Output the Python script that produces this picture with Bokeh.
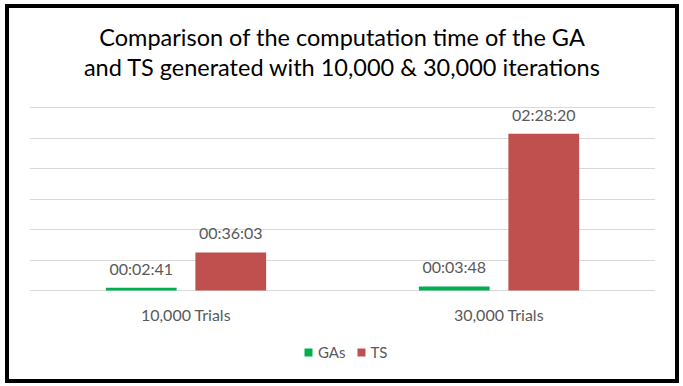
from bokeh.plotting import figure
from bokeh.models import (ColumnDataSource, FactorRange, Range1d, FixedTicker,
                          LabelSet, Label, Legend, LegendItem)
from bokeh.core.properties import value
from bokeh.transform import dodge
from bokeh.embed import file_html
from bokeh.resources import INLINE

# ---- data (seconds) ----
categories = ["10,000 Trials", "30,000 Trials"]
series = ["GAs", "TS"]
ga_seconds = [161, 228]      # 00:02:41, 00:03:48
ts_seconds = [2163, 8900]    # 00:36:03, 02:28:20
grid_step = 1728             # 0:28:48 (0.02 day)
grid_count = 6

title_lines = ["Comparison of the computation time of the GA",
               "and TS generated with 10,000 & 30,000 iterations"]


def hms(s):
    return "%02d:%02d:%02d" % (s // 3600, (s % 3600) // 60, s % 60)


src = ColumnDataSource(dict(
    cat=categories,
    ga=ga_seconds,
    ts=ts_seconds,
    ga_lbl=[hms(v) for v in ga_seconds],
    ts_lbl=[hms(v) for v in ts_seconds],
))

FONT = "Lato"
GRAY = "#595959"

# layout: figure 666x371 placed at page (9, 8); plot frame spans full height,
# zero line 282 px below the top, 30.45 px per grid step
W, H = 666, 371
zero_from_top = 282
px_per_unit = 30.45 / grid_step
y_lo = -(H - zero_from_top) / px_per_unit
y_hi = zero_from_top / px_per_unit

p = figure(width=W, height=H, output_backend="svg", toolbar_location=None,
           x_range=FactorRange(factors=categories, range_padding=0),
           y_range=Range1d(y_lo, y_hi),
           x_axis_location=None, y_axis_location=None,
           min_border=0, min_border_left=20, min_border_right=20)
p.outline_line_color = None
p.styles = {"margin-left": "9px", "margin-top": "8px",
            "outline": "4px solid black", "outline-offset": "0px"}

p.ygrid.ticker = FixedTicker(ticks=[grid_step * i for i in range(grid_count + 1)])
p.ygrid.grid_line_color = "#d9d9d9"
p.xgrid.grid_line_color = None

r_ga = p.vbar(x=dodge("cat", -0.143, range=p.x_range), top="ga", width=0.226,
              source=src, fill_color="#00b050", line_color=None)
r_ts = p.vbar(x=dodge("cat", 0.143, range=p.x_range), top="ts", width=0.226,
              source=src, fill_color="#c0504d", line_color=None)

# value labels
for off, col in ((-0.143, "ga"), (0.143, "ts")):
    p.add_layout(LabelSet(x=dodge("cat", off, range=p.x_range), y=col,
                          text=col + "_lbl", source=src, y_offset=13,
                          text_align="center", text_baseline="alphabetic",
                          text_font=value(FONT), text_font_size="16px",
                          text_color=GRAY))

# category labels under the zero line
src_cat = ColumnDataSource(dict(cat=categories, zero=[0] * len(categories)))
p.add_layout(LabelSet(x="cat", y="zero", text="cat", source=src_cat, y_offset=-30,
                      text_align="center", text_baseline="alphabetic",
                      text_font=value(FONT), text_font_size="16px",
                      text_color=GRAY))

# title (screen units from frame bottom-left)
for i, t in enumerate(title_lines):
    p.add_layout(Label(x=313, y=H - 28 - 30 * i, x_units="screen", y_units="screen",
                       text=t, text_align="center", text_baseline="alphabetic",
                       text_font=FONT, text_font_size="23.5px",
                       text_color="#000000"))

legend = Legend(items=[LegendItem(label=series[0], renderers=[r_ga]),
                       LegendItem(label=series[1], renderers=[r_ts])],
                orientation="horizontal", location=(274, 18),
                glyph_width=10, glyph_height=10, label_standoff=5, spacing=10,
                label_height=12, padding=0, margin=0, border_line_color=None,
                background_fill_alpha=0,
                label_text_font=FONT, label_text_font_size="15px",
                label_text_color=GRAY)
p.add_layout(legend, "center")

open("out.html", "w").write(file_html(p, INLINE))
